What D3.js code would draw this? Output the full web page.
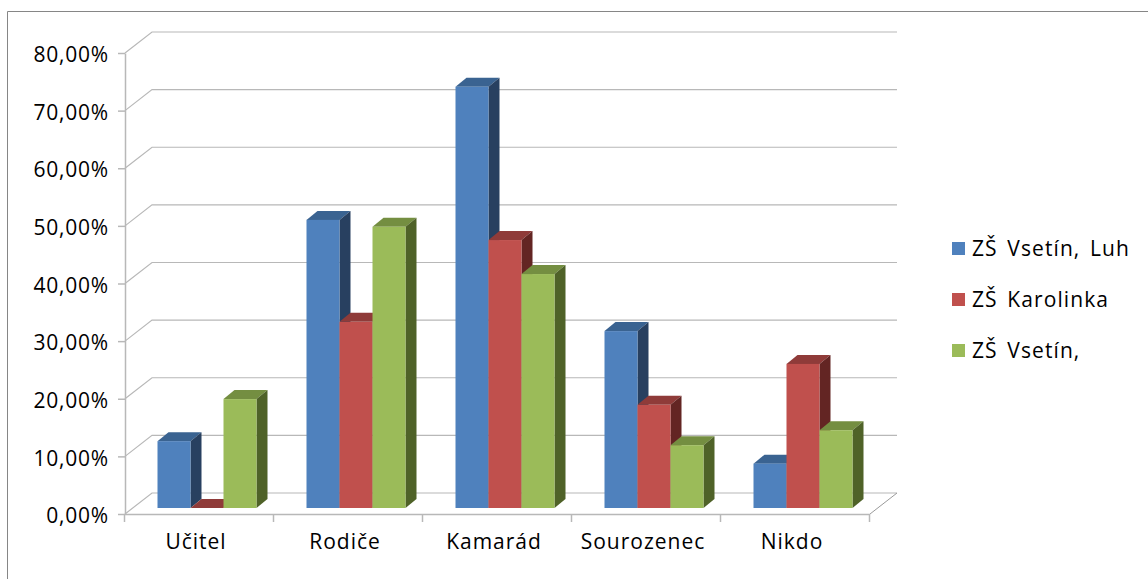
<!DOCTYPE html>
<html>
<head>
<meta charset="utf-8">
<script src="https://cdn.jsdelivr.net/npm/d3@7"></script>
<style>
html, body { margin: 0; padding: 0; background: #fff; overflow: hidden; }
text { font-family: "Open Sans", sans-serif; fill: #000; }
</style>
</head>
<body>
<svg id="chart" width="1148" height="579"></svg>
<script>
// Data
const categories = ['Učitel', 'Rodiče', 'Kamarád', 'Sourozenec', 'Nikdo'];
const series_names = ['ZŠ Vsetín, Luh', 'ZŠ Karolinka', 'ZŠ Vsetín,'];
const luh_values = [11.6, 50.0, 73.1, 30.7, 7.7];
const karolinka_values = [0, 32.3, 46.5, 17.9, 25.0];
const vsetin_values = [18.9, 48.8, 40.6, 10.9, 13.5];
const y_ticks = [0, 10, 20, 30, 40, 50, 60, 70, 80];

const series_values = [luh_values, karolinka_values, vsetin_values];

// Render params
const front_colors = ['#4f81bd', '#c0504d', '#9bbb59'];
const top_colors = ['#3a6391', '#8f3b39', '#748e41'];
const side_colors = ['#284060', '#632523', '#4f6228'];
const grid_color = '#b8b8b8';
const wall_dx = 27, wall_dy = 21;   // back wall offset
const bar_dx = 11, bar_dy = 9;      // bar depth
const bar_lift = 6;                 // bars stand a bit behind the front floor edge

const svg = d3.select('#chart');

// frame around the chart, runs off the picture on the right and bottom
svg.append('path')
    .attr('d', 'M7.5,579V11.5H1148')
    .attr('fill', 'none')
    .attr('stroke', '#868686')
    .attr('stroke-width', 1);

const x = d3.scaleBand().domain(categories).range([124.5, 869.5]);
const y = d3.scaleLinear().domain([0, 80]).range([514, 53]);
const x_series = d3.scaleBand().domain(d3.range(3)).range([33, 132]);

// Gridlines over the side wall and back wall
svg.append('g').selectAll('path')
    .data(y_ticks)
    .join('path')
    .attr('d', d => `M125,${y(d)}L${125 + wall_dx},${y(d) - wall_dy}H${870 + wall_dx}`)
    .attr('fill', 'none')
    .attr('stroke', grid_color)
    .attr('stroke-width', 1.2);

// floor, right edge
svg.append('path')
    .attr('d', `M870,${y(0)}L${870 + wall_dx},${y(0) - wall_dy}`)
    .attr('fill', 'none')
    .attr('stroke', '#9a9a9a');

// Axes
const y_axis = svg.append('g')
    .attr('transform', 'translate(125,0)')
    .call(d3.axisLeft(y).tickValues(y_ticks).tickSize(7).tickSizeOuter(0).tickPadding(9)
        .tickFormat(d => d3.format('.2f')(d).replace('.', ',') + '%'));

const x_axis = svg.append('g')
    .attr('transform', `translate(0,${y(0)})`)
    .call(d3.axisBottom(x).tickSize(0).tickSizeOuter(0).tickPadding(20));

// ticks sit between the categories, not on them
x_axis.selectAll('.band-tick')
    .data([...categories.map(c => x(c)), x.range()[1]])
    .join('line')
    .attr('class', 'band-tick')
    .attr('x1', d => d).attr('x2', d => d)
    .attr('y1', 0).attr('y2', 8);

svg.selectAll('.domain, .tick line, .band-tick')
    .attr('stroke', grid_color)
    .attr('stroke-width', 1.5);

y_axis.selectAll('.tick text')
    .attr('font-size', 21)
    .attr('letter-spacing', 0.8)
    .attr('y', 2)
    .style('font-family', '"Open Sans", sans-serif')
    .style('fill', '#000');

x_axis.selectAll('.tick text')
    .attr('font-size', 21)
    .attr('letter-spacing', 1)
    .attr('dx', -3)
    .style('font-family', '"Open Sans", sans-serif')
    .style('fill', '#000');

// Bars
categories.forEach((cat, c) => {
    series_values.forEach((values, s) => {
        const x0 = x(cat) + x_series(s);
        const w = x_series.bandwidth();
        const base = y(0) - bar_lift;
        const top = y(values[c]) - bar_lift;
        const g = svg.append('g').attr('class', 'bar');

        // top face
        g.append('path')
            .attr('d', `M${x0},${top}L${x0 + bar_dx},${top - bar_dy}H${x0 + w + bar_dx}L${x0 + w},${top}Z`)
            .attr('fill', top_colors[s]);
        // side face
        g.append('path')
            .attr('d', `M${x0 + w},${top}L${x0 + w + bar_dx},${top - bar_dy}V${base - bar_dy}L${x0 + w},${base}Z`)
            .attr('fill', side_colors[s]);
        // front
        g.append('rect')
            .attr('x', x0)
            .attr('y', top)
            .attr('width', w)
            .attr('height', base - top)
            .attr('fill', front_colors[s]);
    });
});

// Legend
const legend = svg.append('g').selectAll('g')
    .data(series_names)
    .join('g')
    .attr('transform', (d, i) => `translate(952,${242 + i * 51})`);

legend.append('rect')
    .attr('width', 13)
    .attr('height', 13)
    .attr('fill', (d, i) => front_colors[i]);

legend.append('text')
    .attr('x', 20)
    .attr('y', 14)
    .attr('font-size', 21)
    .attr('letter-spacing', 1.1)
    .attr('word-spacing', 3)
    .text(d => d);
</script>
</body>
</html>
